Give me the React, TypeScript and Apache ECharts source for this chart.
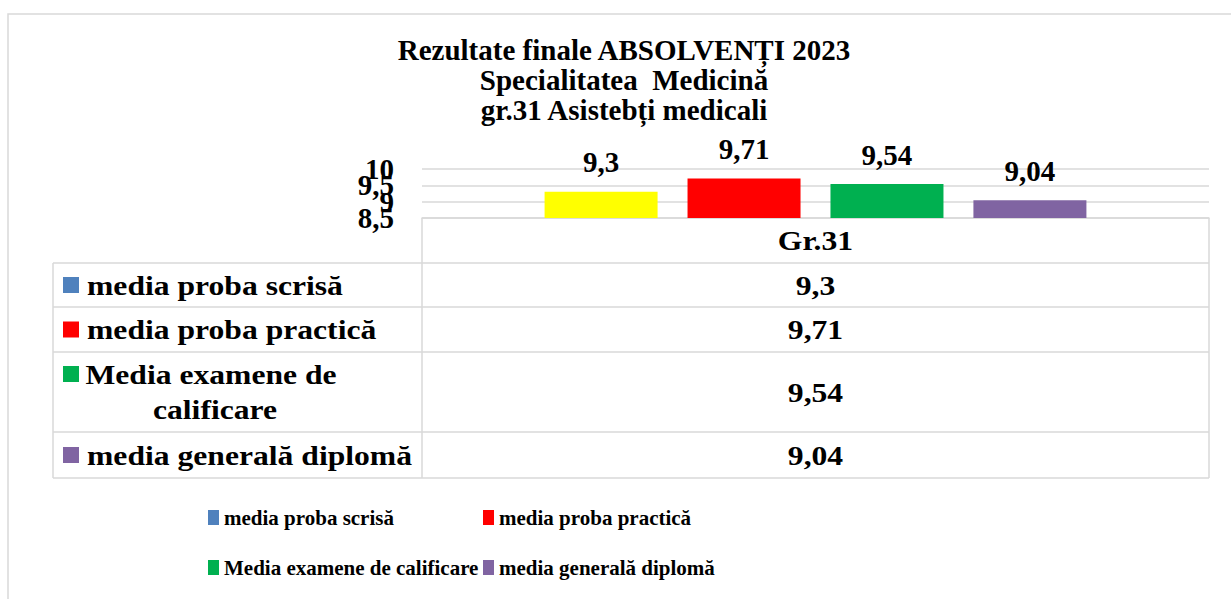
import React, { useEffect, useRef } from "react";
import * as echarts from "echarts";

const categories = ["Gr.31"];
const seriesNames = [
  "media proba scrisă",
  "media proba practică",
  "Media examene de calificare",
  "media generală diplomă",
];
const seriesValues = [9.3, 9.71, 9.54, 9.04];
const barColors = ["#FFFF00", "#FF0000", "#00B050", "#8064A2"];
const keyColors = ["#4F81BD", "#FF0000", "#00B050", "#8064A2"];
const yMin = 8.5;
const yMax = 10;
const yInterval = 0.5;
// tick labels split over two overlaid axes so that none is hidden by overlap
const yTicksA = [10, 9];
const yTicksB = [9.5, 8.5];
const titleLines = [
  "Rezultate finale ABSOLVENȚI 2023",
  "Specialitatea  Medicină",
  "gr.31 Asistebți medicali",
];

const FONT = "'Liberation Serif', 'Times New Roman', serif";
const GRAY = "#d9d9d9";
const fmt = (v: number) => String(v).replace(".", ",");

export default function App() {
  const ref = useRef<HTMLDivElement>(null);
  useEffect(() => {
    if (!ref.current) return;
    const chart = echarts.init(ref.current, null, { renderer: "svg" });

    // table layout
    const tLeft = 53;
    const tKeyRight = 422;
    const tRight = 1209;
    const tHeaderTop = 218;
    const rowEdges = [263, 307, 352, 432, 478];
    const valueX = (tKeyRight + tRight) / 2;
    const SX = 1.13;
    const tableFont = `bold 28px ${FONT}`;

    const graphics: any[] = [];
    graphics.push({
      type: "rect",
      shape: { x: 8, y: 14, width: 1240, height: 620 },
      style: { fill: "none", stroke: GRAY, lineWidth: 1.5 },
      silent: true,
    });
    rowEdges.forEach((y) => {
      graphics.push({
        type: "line",
        shape: { x1: tLeft, y1: y, x2: tRight, y2: y },
        style: { stroke: GRAY, lineWidth: 1.5 },
        silent: true,
      });
    });
    graphics.push({
      type: "line",
      shape: { x1: tLeft, y1: rowEdges[0], x2: tLeft, y2: rowEdges[rowEdges.length - 1] },
      style: { stroke: GRAY, lineWidth: 1.5 },
      silent: true,
    });
    [tKeyRight, tRight].forEach((x) => {
      graphics.push({
        type: "line",
        shape: { x1: x, y1: tHeaderTop, x2: x, y2: rowEdges[rowEdges.length - 1] },
        style: { stroke: GRAY, lineWidth: 1.5 },
        silent: true,
      });
    });
    // header
    graphics.push({
      type: "text",
      x: valueX,
      y: (tHeaderTop + rowEdges[0]) / 2,
      scaleX: SX,
      style: {
        text: categories[0],
        font: tableFont,
        fill: "#000",
        textAlign: "center",
        textVerticalAlign: "middle",
      },
      silent: true,
    });
    seriesNames.forEach((name, i) => {
      const cy = (rowEdges[i] + rowEdges[i + 1]) / 2;
      const wrapped = i === 2;
      graphics.push({
        type: "rect",
        shape: { x: 63, y: cy - 8 - (wrapped ? 18 : 0), width: 16, height: 16 },
        style: { fill: keyColors[i] },
        silent: true,
      });
      graphics.push({
        type: "text",
        x: wrapped ? 215 : 87,
        y: cy,
        scaleX: SX,
        style: {
          text: name,
          font: tableFont,
          fill: "#000",
          textAlign: wrapped ? "center" : "left",
          textVerticalAlign: "middle",
          width: wrapped ? 250 : undefined,
          overflow: wrapped ? "break" : undefined,
          lineHeight: 35,
        },
        silent: true,
      });
      graphics.push({
        type: "text",
        x: valueX,
        y: cy,
        scaleX: SX,
        style: {
          text: fmt(seriesValues[i]),
          font: tableFont,
          fill: "#000",
          textAlign: "center",
          textVerticalAlign: "middle",
        },
        silent: true,
      });
    });

    const legendText = {
      fontSize: 21,
      fontWeight: "bold",
      fontFamily: FONT,
      color: "#000",
    };
    const legendBase = {
      orient: "vertical",
      top: 507,
      itemWidth: 11,
      itemHeight: 15,
      itemGap: 29,
      icon: "rect",
      padding: 0,
      textStyle: legendText,
      selectedMode: false,
    };

    const yLabelStyle = (ticks: number[]) => ({
      formatter: (v: number) => (ticks.some((t) => Math.abs(t - v) < 1e-9) ? fmt(v) : ""),
      fontSize: 29,
      fontWeight: "bold",
      fontFamily: FONT,
      color: "#000",
      margin: 28,
      hideOverlap: false,
      showMinLabel: true,
      showMaxLabel: true,
    });

    chart.setOption({
      animation: false,
      backgroundColor: "#fff",
      title: {
        text: titleLines.join("\n"),
        left: 624,
        top: 35,
        padding: 0,
        textAlign: "center",
        textStyle: {
          fontSize: 29,
          fontWeight: "bold",
          fontFamily: FONT,
          color: "#000",
          lineHeight: 30,
        },
      },
      legend: [
        {
          ...legendBase,
          left: 208,
          data: [
            { name: seriesNames[0], itemStyle: { color: keyColors[0] } },
            { name: seriesNames[2], itemStyle: { color: keyColors[2] } },
          ],
        },
        {
          ...legendBase,
          left: 483,
          data: [
            { name: seriesNames[1], itemStyle: { color: keyColors[1] } },
            { name: seriesNames[3], itemStyle: { color: keyColors[3] } },
          ],
        },
      ],
      grid: { left: 422, right: 1231 - 1209, top: 169, bottom: 599 - 218, containLabel: false },
      xAxis: {
        type: "category",
        data: categories,
        axisLine: { show: true, lineStyle: { color: GRAY, width: 1.5 } },
        axisTick: { show: false },
        axisLabel: { show: false },
      },
      yAxis: [
        {
          type: "value",
          min: yMin,
          max: yMax,
          interval: yInterval,
          position: "left",
          axisLine: { show: false },
          axisTick: { show: false },
          splitLine: { lineStyle: { color: GRAY, width: 1.5 } },
          axisLabel: yLabelStyle(yTicksA),
        },
        {
          type: "value",
          min: yMin,
          max: yMax,
          interval: yInterval,
          position: "left",
          offset: 0,
          axisLine: { show: false },
          axisTick: { show: false },
          splitLine: { show: false },
          axisLabel: yLabelStyle(yTicksB),
        },
      ],
      series: seriesNames.map((name, i) => ({
        type: "bar",
        name,
        yAxisIndex: 0,
        data: [seriesValues[i]],
        barWidth: 113,
        barGap: "26.5%",
        itemStyle: { color: barColors[i] },
        label: {
          show: true,
          position: "top",
          distance: 15,
          formatter: (p: any) => fmt(p.value),
          fontSize: 29,
          fontWeight: "bold",
          fontFamily: FONT,
          color: "#000",
        },
      })),
      graphic: graphics,
    });
    return () => chart.dispose();
  }, []);
  return (
    <div
      ref={ref}
      style={{ position: "absolute", left: 0, top: 0, width: 1231, height: 599 }}
    />
  );
}
